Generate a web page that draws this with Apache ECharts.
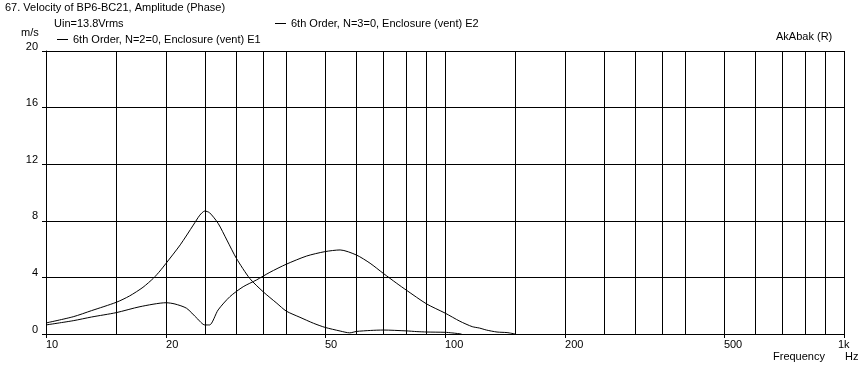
<!DOCTYPE html>
<html><head><meta charset="utf-8">
<script src="https://cdn.jsdelivr.net/npm/echarts@6/dist/echarts.min.js"></script>
<style>html,body{margin:0;padding:0;background:#fff}#c{width:867px;height:371px}</style>
</head><body><div id="c"></div>
<script>
// ---- data ----
const seriesNames = ['6th Order, N=2=0, Enclosure (vent) E1', '6th Order, N=3=0, Enclosure (vent) E2'];
const freqE1 = [10, 11.7, 13, 15, 16.2, 17.5, 18.6, 19.3, 20, 21.7, 23.4, 24.3, 25, 25.7, 27, 28.4, 30, 32.4, 35, 37.9, 40, 43.3, 46.8, 50, 54.6, 57.7, 60, 65, 70, 80, 85, 90, 100, 104, 110];
const velE1  = [0.78, 1.22, 1.65, 2.24, 2.69, 3.3, 3.95, 4.45, 5.0, 6.3, 7.7, 8.4, 8.69, 8.57, 7.82, 6.64, 5.35, 3.93, 2.99, 2.17, 1.62, 1.18, 0.76, 0.47, 0.21, 0.08, 0.18, 0.25, 0.28, 0.22, 0.17, 0.14, 0.12, 0.08, 0];
const freqE2 = [10, 11.7, 13, 15, 17.2, 20, 21.05, 22.5, 23.9, 25, 25.7, 27, 28.9, 31.2, 33.7, 36.4, 40, 45, 50, 54.6, 60, 64.9, 70, 75.7, 80, 90, 100, 109, 117, 122, 127, 135, 143, 150];
const velE2  = [0.64, 0.94, 1.2, 1.51, 1.93, 2.21, 2.12, 1.82, 1.11, 0.64, 0.64, 1.70, 2.64, 3.34, 3.82, 4.36, 4.93, 5.51, 5.82, 5.94, 5.58, 5.0, 4.29, 3.58, 3.1, 2.12, 1.48, 0.9, 0.52, 0.42, 0.28, 0.14, 0.1, 0];
const gridFreqs  = [10, 15, 20, 25, 30, 35, 40, 50, 60, 70, 80, 90, 100, 150, 200, 250, 300, 350, 400, 500, 600, 700, 800, 900, 1000];
const tickFreqs  = [10, 20, 50, 100, 200, 500, 1000];
const labelFreqs = [10, 20, 50, 100, 200, 500];
const yMin = 0, yMax = 20, yStep = 4;

const FONT = 'Liberation Sans';
const txt = {color: '#000', fontFamily: FONT, fontSize: 11};
const pairs = (f, v) => f.map((x, i) => [x, v[i]]);

const chart = echarts.init(document.getElementById('c'), null, {renderer: 'canvas'});
chart.setOption({
  backgroundColor: '#fff',
  animation: false,
  grid: {left: 46, right: 23, top: 51, bottom: 37, containLabel: false},
  legend: [
    {data: [seriesNames[0]], left: 57, top: 34, itemWidth: 11, itemHeight: 1, icon: 'rect', itemGap: 0, padding: 0, textStyle: txt, selectedMode: false},
    {data: [seriesNames[1]], left: 275, top: 18, itemWidth: 11, itemHeight: 1, icon: 'rect', itemGap: 0, padding: 0, textStyle: txt, selectedMode: false}
  ],
  xAxis: [
    {type: 'log', logBase: 10, min: 10, max: 1000, position: 'bottom',
     axisLine: {show: true, lineStyle: {color: '#000', width: 1}},
     axisTick: {show: true, length: 4, customValues: tickFreqs, lineStyle: {color: '#000', width: 1}},
     axisLabel: Object.assign({customValues: labelFreqs, margin: 5, align: 'left',
       formatter: v => String(v)}, txt),
     splitLine: {show: false}, minorTick: {show: false}},
    {type: 'log', logBase: 10, min: 10, max: 1000, position: 'bottom',
     axisLine: {show: false},
     axisTick: {show: false, customValues: gridFreqs},
     axisLabel: {show: false, customValues: gridFreqs},
     splitLine: {show: true, lineStyle: {color: '#000', width: 1}}}
  ],
  yAxis: {type: 'value', min: yMin, max: yMax, interval: yStep,
    axisLine: {show: true, lineStyle: {color: '#000', width: 1}},
    axisTick: {show: true, length: 4, lineStyle: {color: '#000', width: 1}},
    axisLabel: Object.assign({margin: 8, verticalAlign: 'bottom', lineHeight: 9}, txt),
    splitLine: {show: true, lineStyle: {color: '#000', width: 1}}},
  series: [
    {name: seriesNames[0], type: 'line', xAxisIndex: 0, data: pairs(freqE1, velE1), showSymbol: false, smooth: 0.25,
     lineStyle: {color: '#000', width: 1}, itemStyle: {color: '#000'}},
    {name: seriesNames[1], type: 'line', xAxisIndex: 0, data: pairs(freqE2, velE2), showSymbol: false, smooth: 0.25,
     lineStyle: {color: '#000', width: 1}, itemStyle: {color: '#000'}}
  ],
  graphic: [
    {type: 'text', left: 5, top: 2, style: {text: '67. Velocity of BP6-BC21, Amplitude (Phase)', fill: '#000', font: '11px ' + FONT}},
    {type: 'text', left: 54, top: 18, style: {text: 'Uin=13.8Vrms', fill: '#000', font: '11px ' + FONT}},
    {type: 'text', left: 21, top: 27, style: {text: 'm/s', fill: '#000', font: '11px ' + FONT}},
    {type: 'text', left: 776, top: 31, style: {text: 'AkAbak (R)', fill: '#000', font: '11px ' + FONT}},
    {type: 'text', left: 838, top: 339, style: {text: '1k', fill: '#000', font: '11px ' + FONT}},
    {type: 'text', left: 773, top: 351, style: {text: 'Frequency', fill: '#000', font: '11px ' + FONT}},
    {type: 'text', left: 845, top: 351, style: {text: 'Hz', fill: '#000', font: '11px ' + FONT}}
  ]
});
</script></body></html>
